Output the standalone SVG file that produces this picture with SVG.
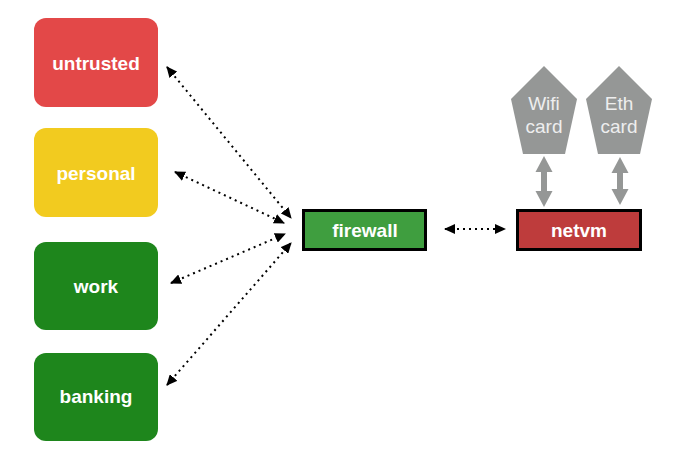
<svg xmlns="http://www.w3.org/2000/svg" width="696" height="474" viewBox="0 0 696 474">
<style>
.vm{stroke:none}
.lbl{font-family:"Liberation Sans",Arial,Helvetica,sans-serif;font-weight:bold;font-size:19px;fill:#ffffff;text-anchor:middle}
.card{font-family:"Liberation Sans",Arial,Helvetica,sans-serif;font-size:19px;fill:#eeeeee;text-anchor:middle}
.dot{fill:none;stroke:#000;stroke-width:2;stroke-dasharray:2 4;marker-start:url(#ah);marker-end:url(#ah)}
.gray{fill:#959796}
</style>
<defs>
<marker id="ah" markerUnits="userSpaceOnUse" markerWidth="11" markerHeight="10" refX="10" refY="5" orient="auto-start-reverse" viewBox="0 0 11 10">
<path d="M0,0 L11,5 L0,10 z" fill="#000"/>
</marker>
</defs>
<rect width="696" height="474" fill="#ffffff"/>
<g id="connectors">
<line class="dot" x1="167" y1="67" x2="291" y2="218"/>
<line class="dot" x1="175" y1="172" x2="284" y2="223"/>
<line class="dot" x1="171" y1="283" x2="285" y2="234"/>
<line class="dot" x1="167" y1="385" x2="291" y2="243"/>
<line class="dot" x1="445" y1="229" x2="505" y2="229"/>
<polygon class="gray" points="544,156 552.5,172 547,172 547,191 552.5,191 544,207 535.5,191 541,191 541,172 535.5,172"/>
<polygon class="gray" points="620,157 628.5,173 623,173 623,189 628.5,189 620,205 611.5,189 617,189 617,173 611.5,173"/>
</g>
<g id="untrusted">
<rect x="34" y="18" width="124" height="89" rx="12" fill="#e34848"/>
<text class="lbl" x="96" y="70">untrusted</text>
</g>
<g id="personal">
<rect x="34" y="128" width="124" height="89" rx="12" fill="#f2cb1f"/>
<text class="lbl" x="96" y="180">personal</text>
</g>
<g id="work">
<rect x="34" y="242" width="124" height="88" rx="12" fill="#1e861c"/>
<text class="lbl" x="96" y="293">work</text>
</g>
<g id="banking">
<rect x="34" y="353" width="124" height="88" rx="12" fill="#1e861c"/>
<text class="lbl" x="96" y="403">banking</text>
</g>
<g id="firewall">
<rect x="303.5" y="210.5" width="122" height="39" fill="#3f9e3f" stroke="#000" stroke-width="3"/>
<text class="lbl" x="365" y="237">firewall</text>
</g>
<g id="netvm">
<rect x="517.5" y="210.5" width="123" height="39" fill="#be3c3c" stroke="#000" stroke-width="3"/>
<text class="lbl" x="579" y="237">netvm</text>
</g>
<g id="wifi">
<polygon class="gray" points="544,66 577,99 565,154 523,154 511,99"/>
<text class="card" x="544" y="110">Wifi</text>
<text class="card" x="544" y="133">card</text>
</g>
<g id="eth">
<polygon class="gray" points="619,66 652,99 640,154 598,154 586,99"/>
<text class="card" x="619" y="110">Eth</text>
<text class="card" x="619" y="133">card</text>
</g>
</svg>
